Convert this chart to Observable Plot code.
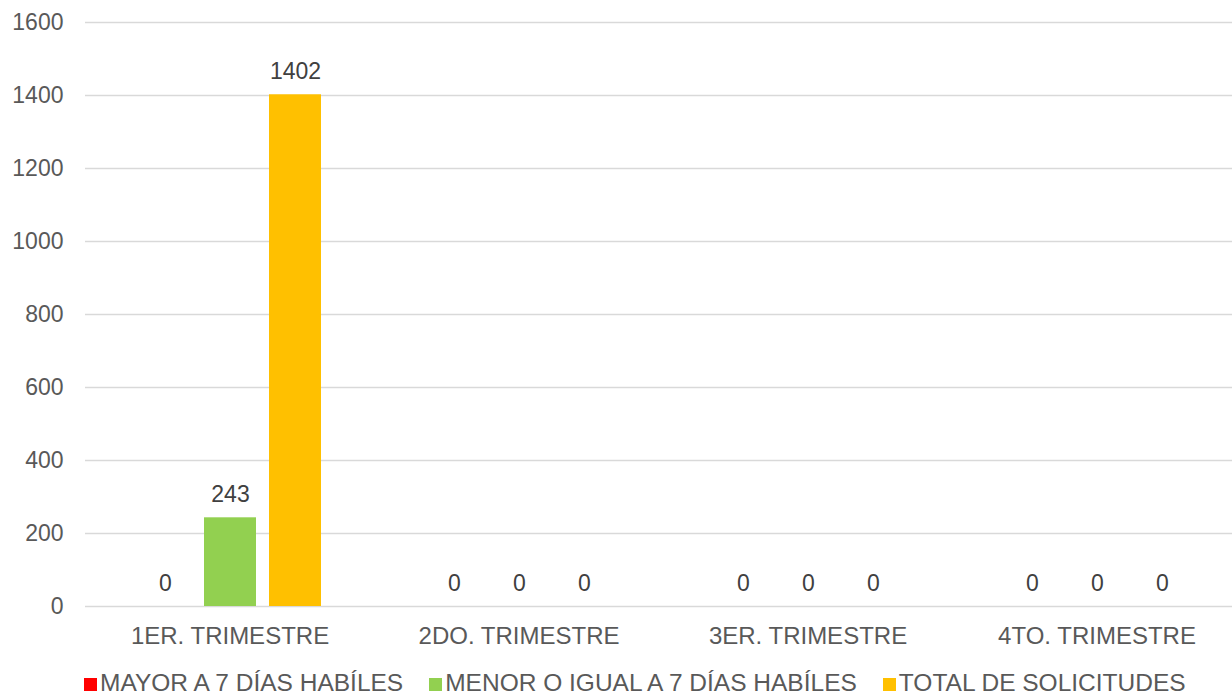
<!DOCTYPE html>
<html>
<head>
<meta charset="utf-8">
<script src="https://cdn.jsdelivr.net/npm/d3@7"></script>
<script src="https://cdn.jsdelivr.net/npm/@observablehq/plot@0.6"></script>
<style>
  html, body { margin: 0; padding: 0; background: #fff; overflow: hidden; }
  #chart svg { display: block; }
  #legend { display: flex; align-items: baseline; padding-left: 84px; margin-top: 13px;
    font-family: "Liberation Sans", Arial, sans-serif; font-size: 24.5px; color: #595959; line-height: 28px; white-space: nowrap; }
  .item { display: flex; align-items: baseline; margin-right: 26px; }
  .sw { width: 13px; height: 13px; display: inline-block; margin-right: 3px; }
</style>
</head>
<body>
<div id="chart"></div>
<div id="legend"></div>
<script>
const categories = ["1ER. TRIMESTRE", "2DO. TRIMESTRE", "3ER. TRIMESTRE", "4TO. TRIMESTRE"];
const series = ["MAYOR A 7 DÍAS HABÍLES", "MENOR O IGUAL A 7 DÍAS HABÍLES", "TOTAL DE SOLICITUDES"];
const colors = ["#FF0000", "#92D050", "#FFC000"];
const mayor = [0, 0, 0, 0];
const menor = [243, 0, 0, 0];
const total = [1402, 0, 0, 0];
const yTicks = [0, 200, 400, 600, 800, 1000, 1200, 1400, 1600];

const values = [mayor, menor, total];
const data = [];
categories.forEach((c, i) => series.forEach((s, j) => data.push({category: c, series: s, value: values[j][i]})));

const chart = Plot.plot({
  width: 1232,
  height: 656,
  marginLeft: 85,
  marginRight: 0,
  marginTop: 22,
  marginBottom: 50,
  style: {fontFamily: "'Liberation Sans', Arial, sans-serif", fontSize: "23px", color: "#595959", background: "#fff"},
  fx: {domain: categories, padding: 0, label: null, range: [85, 1241]},
  x: {domain: series, paddingInner: 0.2, paddingOuter: 0.8, axis: null},
  y: {domain: [0, 1600], ticks: yTicks, tickFormat: d => String(d), label: null},
  color: {domain: series, range: colors},
  marks: [
    Plot.gridY(yTicks, {stroke: "#D9D9D9", strokeOpacity: 1, strokeWidth: 1.3}),
    Plot.axisY(yTicks, {tickSize: 0, tickPadding: 22, fontSize: 23, fill: "#595959", label: null, tickFormat: d => String(d)}),
    Plot.axisFx({anchor: "bottom", tickSize: 0, tickPadding: 20, fontSize: 24, fill: "#595959", label: null}),
    Plot.barY(data, {fx: "category", x: "series", y: "value", fill: "series"}),
    Plot.text(data, {fx: "category", x: "series", y: "value", text: d => String(d.value), lineAnchor: "bottom", dy: -16, fill: "#404040", fontSize: 23})
  ]
});
document.getElementById("chart").appendChild(chart);

const legend = document.getElementById("legend");
series.forEach((s, i) => {
  const it = document.createElement("div");
  it.className = "item";
  const sw = document.createElement("span");
  sw.className = "sw";
  sw.style.background = colors[i];
  const t = document.createElement("span");
  t.textContent = s;
  it.appendChild(sw);
  it.appendChild(t);
  legend.appendChild(it);
});
</script>
</body>
</html>
